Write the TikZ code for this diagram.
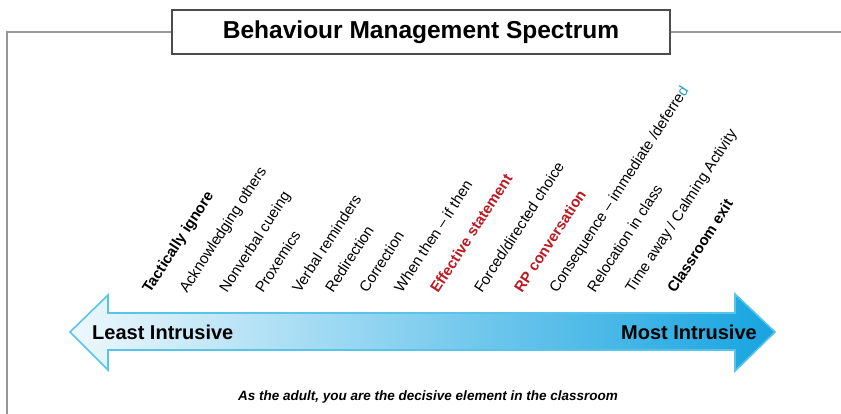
\documentclass[tikz,border=0pt]{standalone}
\usepackage{fontspec}
\setmainfont{Liberation Sans}
\definecolor{spred}{RGB}{190,24,32}
\definecolor{spcyan}{RGB}{40,160,200}
\definecolor{arrowedge}{RGB}{88,196,234}
\definecolor{arrowlight}{RGB}{238,248,253}
\definecolor{arrowmid}{RGB}{140,211,241}
\definecolor{arrowdark}{RGB}{22,164,224}
\definecolor{framegray}{RGB}{150,150,150}

\begin{document}
\begin{tikzpicture}[x=1pt, y=-1pt,
    frame/.style={draw=framegray, line width=1.4pt},
    steplbl/.style={rotate=57, anchor=base west, inner sep=0pt, font=\fontsize{15}{18}\selectfont},
    strong/.style={font=\fontsize{15}{18}\selectfont\bfseries},
    key/.style={strong, text=spred},
    ends/.style={font=\fontsize{20}{24}\selectfont\bfseries, inner sep=0pt}]
        \useasboundingbox (0,0) rectangle (841,414);

        % title box and frame
        \node[draw=black!70, line width=1.2pt, minimum width=498pt, minimum height=44pt,
              font=\fontsize{24.5}{29}\selectfont\bfseries] (title) at (421,32) {Behaviour Management Spectrum};
        \coordinate (corner) at (7,414);
        \coordinate (edge) at (841,32);
        \draw[frame] (corner) |- (title.west);
        \draw[frame] (title.east) -- (edge);

        % the spectrum arrow
        \draw[draw=arrowedge, line width=1.6pt, left color=arrowlight, middle color=arrowmid, right color=arrowdark]
            (70,332) -- (108,295) -- (108,313) -- (735,313) -- (735,294) -- (775,332)
            -- (735,371) -- (735,350) -- (108,350) -- (108,370) -- cycle;
        \node[ends, anchor=west] (least) at (92,332) {Least Intrusive};
        \node[ends, anchor=east] (most) at (757,332) {Most Intrusive};

        % strategies
        \node[steplbl, strong] (s1) at (150,294) {Tactically ignore};
        \node[steplbl] (s2) at (187,294) {Acknowledging others};
        \node[steplbl] (s3) at (227,294) {Nonverbal cueing};
        \node[steplbl] (s4) at (263,294) {Proxemics};
        \node[steplbl] (s5) at (300,294) {Verbal reminders};
        \node[steplbl] (s6) at (333,294) {Redirection};
        \node[steplbl] (s7) at (367,294) {Correction};
        \node[steplbl] (s8) at (402,294) {When then -- if then};
        \node[steplbl, key] (s9) at (438,294) {Effective statement};
        \node[steplbl] (s10) at (482,294) {Forced/directed choice};
        \node[steplbl, key] (s11) at (522,294) {RP conversation};
        \node[steplbl] (s12) at (557,294) {Consequence -- immediate /deferre\textcolor{spcyan}{d}};
        \node[steplbl] (s13) at (595,294) {Relocation in class};
        \node[steplbl] (s14) at (633,294) {Time away / Calming Activity};
        \node[steplbl, strong] (s15) at (675,294) {Classroom exit};

        \node[font=\fontsize{13.5}{16}\selectfont\bfseries\itshape] (motto) at (428,397)
            {As the adult, you are the decisive element in the classroom};
\end{tikzpicture}
\end{document}
